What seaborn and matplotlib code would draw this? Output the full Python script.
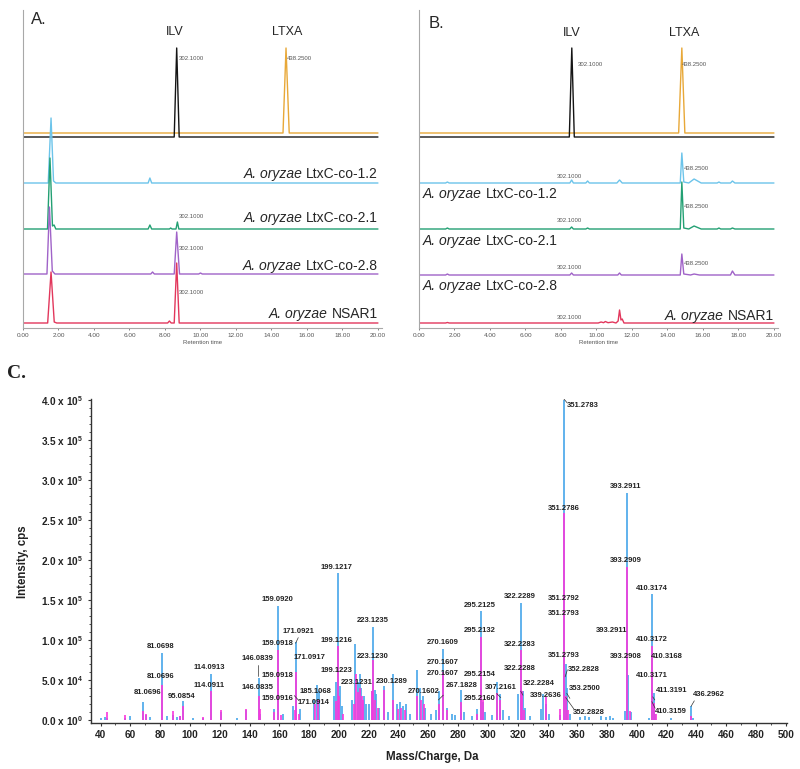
import numpy as np
import matplotlib
matplotlib.use("Agg")
import matplotlib.pyplot as plt
import seaborn as sns

sns.set_style("ticks")
plt.rcParams['font.family'] = ['Liberation Sans', 'DejaVu Sans']
plt.rcParams['mathtext.fontset'] = 'custom'
plt.rcParams['mathtext.rm'] = 'Liberation Sans'
plt.rcParams['mathtext.it'] = 'Liberation Sans:italic'
plt.rcParams['mathtext.bf'] = 'Liberation Sans:bold'

# ---- chromatograms (retention time in min, peak height above each trace's baseline) ----
# panel A
a_ilv_rt = [0, 8.52, 8.66, 8.80, 20]
a_ilv_y = [0, 0, 89, 0, 0]
a_ltxa_rt = [0, 14.65, 14.82, 15.0, 20]
a_ltxa_y = [0, 0, 85, 0, 0]
a_c12_rt = [0, 1.42, 1.58, 1.72, 1.85, 7.05, 7.15, 7.25, 20]
a_c12_y = [0, 0, 65, 2, 0, 0, 5, 0, 0]
a_c21_rt = [0, 1.38, 1.52, 1.66, 1.75, 1.85, 7.05, 7.15, 7.25, 8.25, 8.32, 8.40, 8.62, 8.70, 8.78, 20]
a_c21_y = [0, 0, 71, 3, 4, 0, 0, 4, 0, 0, 1, 0, 0, 7, 0, 0]
a_c28_rt = [0, 1.35, 1.49, 1.65, 1.8, 7.2, 7.3, 7.4, 8.52, 8.66, 8.82, 9.9, 10.0, 10.1, 20]
a_c28_y = [0, 0, 67, 3, 0, 0, 2, 0, 0, 42, 0, 0, 1, 0, 0]
a_nsar_rt = [0, 1.39, 1.58, 1.76, 1.9, 8.15, 8.25, 8.35, 8.52, 8.66, 8.80, 20]
a_nsar_y = [0, 0, 51, 1, 0, 0, 2, 0, 0, 60, 0, 0]

# panel B
b_ilv_rt = [0, 8.47, 8.61, 8.75, 20]
b_ilv_y = [0, 0, 89, 0, 0]
b_ltxa_rt = [0, 14.63, 14.81, 14.98, 20]
b_ltxa_y = [0, 0, 85, 0, 0]
b_c12_rt = [0, 1.5, 1.6, 1.7, 8.5, 8.6, 8.7, 9.4, 9.5, 9.6, 11.15, 11.3, 11.45, 14.72, 14.81,
            14.92, 15.2, 15.5, 15.9, 16.8, 16.9, 17.0, 17.55, 17.66, 17.8, 20]
b_c12_y = [0, 0, 1, 0, 0, 3, 0, 0, 2, 0, 0, 3, 0, 0, 30, 1, 0, 4, 0, 0, 1, 0, 0, 2, 0, 0]
b_c21_rt = [0, 1.5, 1.6, 1.7, 8.5, 8.6, 8.7, 9.4, 9.5, 9.6, 14.72, 14.81, 14.92, 15.2, 15.5,
            15.9, 16.8, 16.9, 17.0, 17.55, 17.66, 17.8, 20]
b_c21_y = [0, 0, 1, 0, 0, 2, 0, 0, 1, 0, 0, 47, 1, 0, 3, 0, 0, 1, 0, 0, 1, 0, 0]
b_c28_rt = [0, 1.5, 1.6, 1.7, 8.5, 8.6, 8.7, 11.2, 11.3, 11.4, 14.72, 14.81, 14.92, 15.3, 15.5,
            15.8, 17.55, 17.66, 17.8, 20]
b_c28_y = [0, 0, 1, 0, 0, 2, 0, 0, 2, 0, 0, 21, 1, 0, 1, 0, 0, 4, 0, 0]
b_nsar_rt = [0, 1.5, 1.6, 1.7, 10.1, 10.26, 10.4, 10.5, 10.65, 10.9, 11.1, 11.22, 11.3, 11.38,
             11.45, 11.55, 11.7, 20]
b_nsar_y = [0, 0, 0.5, 0, 0, 1, 0.3, 1.5, 0.3, 1, 0, 2, 13, 3, 4, 0, 0, 0]

strain_names = ["LtxC-co-1.2", "LtxC-co-2.1", "LtxC-co-2.8", "NSAR1"]
rt_ticks = [0, 2, 4, 6, 8, 10, 12, 14, 16, 18, 20]

# ---- MS/MS spectrum (m/z, intensity cps) ----
blue_mz = [40.3, 43.0, 44.6, 56.4, 59.8, 68.7, 70.5, 73.2, 81.07, 84.4, 88.8, 91.5, 93.0, 95.09,
           102.0, 108.6, 114.09, 120.9, 131.4, 137.4, 146.08, 147.0, 156.4, 159.09, 162.3, 169.4,
           171.09, 173.9, 183.0, 185.1, 186.3, 197.0, 198.0, 199.12, 200.6, 202.0, 209.0, 211.0,
           212.8, 214.0, 215.0, 216.5, 218.0, 220.5, 222.0, 223.12, 224.0, 225.2, 227.0, 230.13,
           233.0, 236.5, 239.0, 241.0, 243.0, 245.3, 248.0, 252.3, 254.4, 256.6, 258.0, 262.0,
           265.0, 267.2, 270.16, 272.3, 276.0, 278.0, 281.9, 284.0, 289.0, 292.5, 295.21, 296.5,
           298.0, 303.0, 306.2, 308.0, 310.0, 314.0, 320.4, 322.23, 323.3, 325.0, 328.0, 335.4,
           337.2, 339.26, 341.0, 348.4, 351.28, 352.28, 353.25, 355.0, 362.0, 365.0, 368.0, 376.0,
           379.0, 382.0, 384.0, 392.0, 393.29, 394.3, 396.0, 408.0, 410.32, 411.32, 412.3, 423.0,
           436.3, 437.5]
blue_int = [3000, 4000, 3000, 3000, 5000, 22000, 6000, 4000, 84000, 5000, 6000, 4000, 5000, 24000,
            2000, 2000, 57000, 10000, 3000, 13000, 52000, 8000, 14000, 143000, 8000, 17000,
            98000, 14000, 25000, 44000, 36000, 30000, 48000, 184000, 42000, 18000, 25000, 95000,
            48000, 58000, 40000, 30000, 20000, 20000, 36000, 116000, 37000, 32000, 15000, 43000,
            10000, 58000, 20000, 22000, 18000, 20000, 8000, 62000, 40000, 30000, 15000, 8000,
            12000, 36000, 89000, 15000, 8000, 6000, 38000, 10000, 5000, 14000, 136000, 23000,
            10000, 6000, 47000, 32000, 12000, 5000, 32000, 146000, 36000, 15000, 5000, 14000,
            32000, 20000, 8000, 6000, 400000, 70000, 40000, 8000, 4000, 5000, 4000, 5000,
            4000, 5000, 3000, 11000, 284000, 56000, 10000, 3000, 157000, 34000, 8000, 3000,
            17000, 3000]
pink_mz = [44.6, 56.4, 68.7, 70.5, 81.07, 88.8, 93.0, 95.09, 108.6, 114.09, 120.9, 137.4, 146.08,
           147.0, 156.4, 159.09, 161.0, 170.5, 171.09, 173.0, 184.0, 186.0, 198.0, 199.12, 200.0,
           203.0, 210.0, 211.5, 213.0, 214.2, 215.4, 216.4, 222.0, 223.12, 224.4, 226.0, 230.13,
           236.5, 239.5, 241.5, 244.0, 252.3, 254.8, 256.8, 267.2, 270.16, 272.3, 281.9, 292.5,
           295.21, 296.8, 306.2, 308.2, 322.23, 323.0, 324.5, 339.26, 348.4, 351.28, 352.5, 354.0,
           393.29, 395.0, 410.32, 411.5, 412.5, 436.5]
pink_int = [10000, 6000, 11000, 7000, 44000, 11000, 5000, 17000, 4000, 36000, 12000, 14000, 30000,
            14000, 10000, 88000, 6000, 12000, 60000, 8000, 20000, 25000, 24000, 92000, 30000,
            8000, 20000, 57000, 35000, 40000, 30000, 25000, 36000, 75000, 25000, 15000, 38000,
            25000, 14000, 15000, 12000, 30000, 25000, 20000, 20000, 60000, 12000, 22000, 8000,
            104000, 25000, 34000, 25000, 88000, 36000, 12000, 29000, 14000, 259000, 30000, 12000,
            191000, 11000, 92000, 21000, 8000, 5000]

# peak labels: text, m/z position, intensity position
lab_text = ["81.0698", "81.0696", "81.0696", "95.0854", "114.0913", "114.0911", "146.0839",
            "146.0835", "159.0920", "159.0918", "159.0918", "159.0916", "171.0921", "171.0917",
            "171.0914", "185.1068", "199.1217", "199.1216", "199.1223", "223.1235", "223.1230",
            "223.1231", "230.1289", "270.1602", "270.1609", "270.1607", "270.1607", "267.1828",
            "295.2125", "295.2132", "295.2154", "295.2160", "307.2161", "322.2289", "322.2283",
            "322.2288", "322.2284", "339.2636", "351.2783", "351.2786", "351.2792", "351.2793",
            "351.2793", "352.2828", "353.2500", "352.2828", "393.2911", "393.2909", "393.2911",
            "393.2908", "410.3174", "410.3172", "410.3168", "410.3171", "411.3191", "410.3159",
            "436.2962"]
lab_mz = [80.3, 80.3, 71.6, 94.4, 113.2, 113.2, 145.4, 145.4, 158.9, 158.9, 158.9, 158.9, 173.0,
          180.4, 183.0, 184.4, 198.5, 198.5, 198.5, 222.7, 222.7, 211.9, 235.5, 256.9, 269.7,
          269.7, 269.7, 282.4, 294.5, 294.5, 294.5, 294.5, 308.6, 321.4, 321.4, 321.4, 334.2,
          338.9, 363.7, 350.9, 350.9, 350.9, 350.9, 364.4, 365.0, 367.7, 392.6, 392.6, 383.2,
          392.6, 410.0, 410.0, 420.1, 410.0, 423.5, 422.8, 448.3]
lab_int = [91500, 53900, 33900, 28800, 65200, 42600, 76500, 40100, 150500, 95300, 55200, 26300,
           110400, 77700, 21300, 35100, 190600, 99100, 61400, 124100, 79000, 46400, 47700, 35100,
           96600, 71500, 57700, 42600, 143000, 111600, 56400, 26300, 40100, 154200, 94100, 64000,
           45100, 30100, 393800, 264600, 151700, 132900, 80300, 62700, 38900, 8800, 292200,
           199400, 111600, 79000, 164300, 100300, 79000, 55200, 36400, 10000, 31400]
# leader lines (m/z0, int0, m/z1, int1)
leaders = [(145.6, 69000, 145.6, 55600), (172.7, 103000, 170.9, 96000), (170.0, 30500, 173.2, 24200),
           (350.8, 402000, 353.0, 397000), (352.2, 28000, 357.8, 13400), (351.8, 54000, 353.3, 62700),
           (352.9, 33400, 355.0, 27000), (266.7, 25000, 270.0, 31000), (322.0, 36000, 323.5, 31000),
           (410.0, 23000, 412.2, 14700), (410.6, 29000, 412.0, 25000), (436.3, 17000, 438.5, 24000),
           (305.9, 33000, 308.6, 28000)]
c_yticks = [0, 50000, 100000, 150000, 200000, 250000, 300000, 350000, 400000]
c_ytick_labels = [r"$\mathbf{0.0\ x\ 10^{0}}$", r"$\mathbf{5.0\ x\ 10^{4}}$",
                  r"$\mathbf{1.0\ x\ 10^{5}}$", r"$\mathbf{1.5\ x\ 10^{5}}$",
                  r"$\mathbf{2.0\ x\ 10^{5}}$", r"$\mathbf{2.5\ x\ 10^{5}}$",
                  r"$\mathbf{3.0\ x\ 10^{5}}$", r"$\mathbf{3.5\ x\ 10^{5}}$",
                  r"$\mathbf{4.0\ x\ 10^{5}}$"]
c_xticks = list(range(40, 501, 20))

col_std_ilv = "#151515"
col_std_ltxa = "#e8a838"
col_c12 = "#6cc4ea"
col_c21 = "#23a073"
col_c28 = "#a063c8"
col_nsar = "#e2375c"
col_blue = "#45a6ea"
col_pink = "#fb36dc"

W, H = 800, 769
fig = plt.figure(figsize=(8, 7.69), dpi=100)


def chrom_axes(left_px):
    ax = fig.add_axes([left_px / W, 1 - 328 / H, 358.5 / W, 318 / H])
    ax.set_xlim(0, 20.2)
    ax.set_ylim(0, 318)
    ax.set_yticks([])
    ax.set_xticks(rt_ticks)
    ax.set_xticklabels([f"{v:.2f}" for v in rt_ticks])
    ax.tick_params(axis='x', labelsize=4.6, colors='#555555', length=1.5, width=0.5, pad=2)
    ax.set_xlabel("Retention time", fontsize=4.3, color='#555555', labelpad=1.5)
    for s in ['top', 'right']:
        ax.spines[s].set_visible(False)
    for s in ['left', 'bottom']:
        ax.spines[s].set_color('#a8a8a8')
        ax.spines[s].set_linewidth(0.8)
    return ax


def trace(ax, rt, y, base, color):
    sns.lineplot(x=rt, y=np.array(y, dtype=float) + base, ax=ax, color=color, lw=1.0,
                 estimator=None, sort=False)


strain_fs = 10


def strain_label(ax, x, y, name, ha):
    # italic species name + regular strain name, placed side by side
    if ha == 'right':
        t = ax.text(x, y, name, fontsize=strain_fs, ha='right', va='bottom')
        ax.annotate("A. oryzae", xy=(0, 0), xycoords=t, xytext=(-2.8, 0), textcoords='offset points',
                    fontsize=strain_fs, fontstyle='italic', ha='right', va='bottom')
    else:
        t = ax.text(x, y, "A. oryzae", fontsize=strain_fs, fontstyle='italic', ha='left', va='bottom')
        ax.annotate(name, xy=(1, 0), xycoords=t, xytext=(2.8, 0), textcoords='offset points',
                    fontsize=strain_fs, ha='left', va='bottom')


small = dict(fontsize=4.3, color='#555555')
lab_dy = 8  # strain labels are given by their vertical centre

# panel A
ax_a = chrom_axes(23)
trace(ax_a, a_ltxa_rt, a_ltxa_y, 195, col_std_ltxa)
trace(ax_a, a_ilv_rt, a_ilv_y, 191, col_std_ilv)
trace(ax_a, a_c12_rt, a_c12_y, 145, col_c12)
trace(ax_a, a_c21_rt, a_c21_y, 99, col_c21)
trace(ax_a, a_c28_rt, a_c28_y, 54, col_c28)
trace(ax_a, a_nsar_rt, a_nsar_y, 5, col_nsar)
ax_a.text(0.45, 308, "A.", fontsize=12, va='center')
ax_a.text(8.56, 296, "ILV", fontsize=9, ha='center', va='center')
ax_a.text(14.87, 296, "LTXA", fontsize=9, ha='center', va='center')
ax_a.text(8.79, 269, "302.1000", va='center', **small)
ax_a.text(14.87, 269, "438.2500", va='center', **small)
for yy in [111, 80, 36]:
    ax_a.text(8.79, yy, "302.1000", va='center', **small)
for name, yy in zip(strain_names, [155, 111, 63, 15]):
    strain_label(ax_a, 20.0, yy - lab_dy, name, 'right')

# panel B
ax_b = chrom_axes(419)
trace(ax_b, b_ltxa_rt, b_ltxa_y, 195, col_std_ltxa)
trace(ax_b, b_ilv_rt, b_ilv_y, 191, col_std_ilv)
trace(ax_b, b_c12_rt, b_c12_y, 145, col_c12)
trace(ax_b, b_c21_rt, b_c21_y, 99, col_c21)
trace(ax_b, b_c28_rt, b_c28_y, 53, col_c28)
trace(ax_b, b_nsar_rt, b_nsar_y, 5, col_nsar)
ax_b.text(0.56, 305, "B.", fontsize=12, va='center')
ax_b.text(8.6, 295, "ILV", fontsize=9, ha='center', va='center')
ax_b.text(14.94, 295, "LTXA", fontsize=9, ha='center', va='center')
ax_b.text(8.93, 263, "302.1000", va='center', **small)
ax_b.text(14.83, 263, "438.2500", va='center', **small)
for yy in [152, 108, 61, 11]:
    ax_b.text(8.48, yy, "302.1000", ha='center', va='center', **small)
for yy in [159, 122, 65]:
    ax_b.text(14.94, yy, "438.2500", va='center', **small)
for name, yy in zip(strain_names[:3], [135, 88, 43]):
    strain_label(ax_b, 0.22, yy - lab_dy, name, 'left')
strain_label(ax_b, 20.0, 13 - lab_dy, strain_names[3], 'right')

# panel C
ax_c = fig.add_axes([91 / W, (H - 722.7) / H, 695.7 / W, 324.1 / H])
ax_c.set_xlim(33.6, 500.5)
ax_c.set_ylim(-3400, 402000)
ax_c.vlines(blue_mz, 0, blue_int, color=col_blue, lw=1.2, clip_on=False)
ax_c.vlines(pink_mz, 0, pink_int, color=col_pink, lw=1.2, clip_on=False)
for t, mx, iy in zip(lab_text, lab_mz, lab_int):
    ax_c.text(mx, iy, t, fontsize=5.5, fontweight='bold', ha='center', va='center', color='#222222')
for x0, y0, x1, y1 in leaders:
    ax_c.plot([x0, x1], [y0, y1], color='#333333', lw=0.5)
ax_c.set_yticks(c_yticks)
ax_c.set_yticklabels(c_ytick_labels)
ax_c.set_xticks(c_xticks)
ax_c.set_xticks(list(range(40, 501, 10)), minor=True)
ax_c.set_yticks(list(range(0, 400001, 10000)), minor=True)
ax_c.tick_params(which='major', labelsize=7.2, length=2.5, width=0.8, color='#333333', pad=3)
ax_c.tick_params(which='minor', length=1.3, width=0.6, color='#333333')
for lbl in ax_c.get_xticklabels() + ax_c.get_yticklabels():
    lbl.set_fontweight('bold')
    lbl.set_color('#222222')
for s in ['top', 'right']:
    ax_c.spines[s].set_visible(False)
for s in ['left', 'bottom']:
    ax_c.spines[s].set_color('#333333')
    ax_c.spines[s].set_linewidth(1.0)

fig.text(23 / W, 1 - 562 / H, "Intensity, cps", rotation=90, fontsize=8.3, fontweight='bold',
         ha='center', va='center', color='#222222')
fig.text(432 / W, 1 - 757 / H, "Mass/Charge, Da", fontsize=8.3, fontweight='bold',
         ha='center', va='center', color='#222222')
fig.text(7 / W, 1 - 373 / H, "C.", fontsize=14, fontweight='bold', family='Liberation Serif',
         ha='left', va='center', color='#222222')

fig.savefig("out.png", dpi=100)
